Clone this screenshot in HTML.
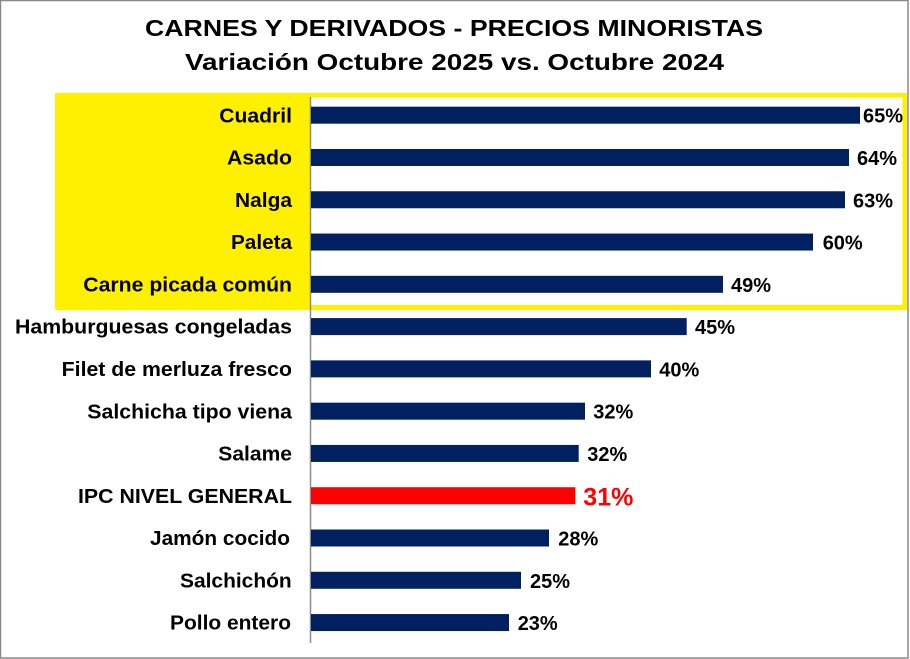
<!DOCTYPE html>
<html><head><meta charset="utf-8"><style>
html,body{margin:0;padding:0;background:#fff;}
svg{display:block;}
text{font-family:"Liberation Sans",Arial,sans-serif;font-weight:bold;fill:#000;}
</style></head><body>
<svg width="910" height="659" viewBox="0 0 910 659" xmlns="http://www.w3.org/2000/svg">
<rect x="0" y="0" width="910" height="659" fill="#fff"/>
<rect x="0.5" y="0.5" width="907.5" height="657.5" fill="none" stroke="#888" stroke-width="1.5"/>
<text x="145" y="36" font-size="23" textLength="618" lengthAdjust="spacingAndGlyphs">CARNES Y DERIVADOS - PRECIOS MINORISTAS</text>
<text x="185" y="70" font-size="23" textLength="539" lengthAdjust="spacingAndGlyphs">Variación Octubre 2025 vs. Octubre 2024</text>
<!-- yellow highlight -->
<rect x="55" y="93" width="852" height="217" fill="#FFF000"/>
<rect x="310" y="97.5" width="592.5" height="207.5" fill="#fff"/>
<!-- axis -->
<line x1="310.5" y1="97" x2="310.5" y2="643" stroke="#8c8c8c" stroke-width="1.5"/>
<g fill="#002060">
<rect x="311" y="106.7" width="549" height="17"/>
<rect x="311" y="148.98" width="538" height="17"/>
<rect x="311" y="191.26" width="534" height="17"/>
<rect x="311" y="233.54" width="502" height="17"/>
<rect x="311" y="275.82" width="412" height="17"/>
<rect x="311" y="318.1" width="375.7" height="17"/>
<rect x="311" y="360.38" width="340" height="17"/>
<rect x="311" y="402.66" width="274" height="17"/>
<rect x="311" y="444.94" width="267.7" height="17"/>
<rect x="311" y="487.22" width="264.3" height="17" fill="#FF0000"/>
<rect x="311" y="529.5" width="238" height="17"/>
<rect x="311" y="571.78" width="210" height="17"/>
<rect x="311" y="614.06" width="198" height="17"/>
</g>
<g font-size="20.5" lengthAdjust="spacingAndGlyphs">
<text x="219.3" y="122.3" textLength="72.7" lengthAdjust="spacingAndGlyphs">Cuadril</text>
<text x="227" y="164.6" textLength="65" lengthAdjust="spacingAndGlyphs">Asado</text>
<text x="235" y="206.9" textLength="57" lengthAdjust="spacingAndGlyphs">Nalga</text>
<text x="231" y="249.1" textLength="61" lengthAdjust="spacingAndGlyphs">Paleta</text>
<text x="83.3" y="291.4" textLength="208.7" lengthAdjust="spacingAndGlyphs">Carne picada común</text>
<text x="15" y="333.7" textLength="277" lengthAdjust="spacingAndGlyphs">Hamburguesas congeladas</text>
<text x="61.7" y="376" textLength="230.3" lengthAdjust="spacingAndGlyphs">Filet de merluza fresco</text>
<text x="87.3" y="418.3" textLength="204.7" lengthAdjust="spacingAndGlyphs">Salchicha tipo viena</text>
<text x="218.3" y="460.5" textLength="73.7" lengthAdjust="spacingAndGlyphs">Salame</text>
<text x="78" y="502.8" textLength="214" lengthAdjust="spacingAndGlyphs">IPC NIVEL GENERAL</text>
<text x="150" y="545.1" textLength="140" lengthAdjust="spacingAndGlyphs">Jamón cocido</text>
<text x="180" y="587.4" textLength="111.7" lengthAdjust="spacingAndGlyphs">Salchichón</text>
<text x="170" y="629.7" textLength="121" lengthAdjust="spacingAndGlyphs">Pollo entero</text>
</g>
<g font-size="20">
<text x="863" y="122.7">65%</text>
<text x="857" y="165">64%</text>
<text x="853" y="207.3">63%</text>
<text x="822.7" y="249.5">60%</text>
<text x="731" y="291.8">49%</text>
<text x="695" y="334.1">45%</text>
<text x="659.3" y="376.4">40%</text>
<text x="593.3" y="418.7">32%</text>
<text x="587.3" y="460.9">32%</text>
<text x="583.3" y="505.7" font-size="25" style="fill:#FF0000">31%</text>
<text x="558.3" y="545.5">28%</text>
<text x="530" y="587.8">25%</text>
<text x="517.7" y="630.1">23%</text>
</g>
</svg>
</body></html>
